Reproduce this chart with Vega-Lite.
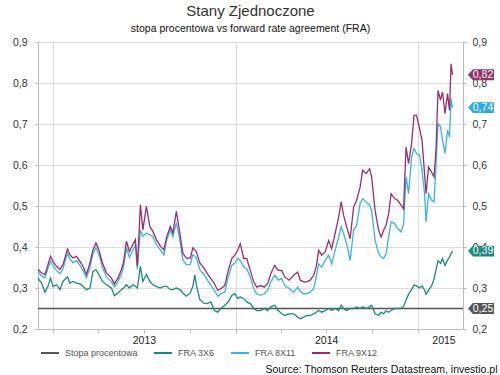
{
  "$schema": "https://vega.github.io/schema/vega-lite/v6.json",
  "width": 425,
  "height": 287,
  "autosize": "none",
  "padding": {"left": 38, "top": 42, "right": 37, "bottom": 46},
  "config": {
    "font": "Liberation Sans",
    "view": {"stroke": null},
    "locale": {"number": {"decimal": ",", "thousands": " ", "grouping": [3], "currency": ["", " zł"]}}
  },
  "title": {
    "text": "Stany Zjednoczone",
    "subtitle": "stopa procentowa vs forward rate agreement (FRA)",
    "fontSize": 15,
    "fontWeight": "normal",
    "color": "#333333",
    "subtitleFontSize": 10.5,
    "subtitleColor": "#111111",
    "subtitlePadding": 5,
    "offset": 3,
    "anchor": "middle"
  },
  "layer": [
    {
      "data": {
        "values": [
          {"d": "2012-12-01", "s": 0.25, "t": 0.324, "b": 0.340, "p": 0.345},
          {"d": "2012-12-08", "s": 0.25, "t": 0.312, "b": 0.330, "p": 0.337},
          {"d": "2012-12-15", "s": 0.25, "t": 0.290, "b": 0.325, "p": 0.333},
          {"d": "2012-12-21", "s": 0.25, "t": 0.304, "b": 0.348, "p": 0.357},
          {"d": "2012-12-26", "s": 0.25, "t": 0.324, "b": 0.365, "p": 0.377},
          {"d": "2012-12-31", "s": 0.25, "t": 0.304, "b": 0.355, "p": 0.365},
          {"d": "2013-01-07", "s": 0.25, "t": 0.308, "b": 0.343, "p": 0.353},
          {"d": "2013-01-14", "s": 0.25, "t": 0.296, "b": 0.335, "p": 0.345},
          {"d": "2013-01-20", "s": 0.25, "t": 0.316, "b": 0.347, "p": 0.357},
          {"d": "2013-01-29", "s": 0.25, "t": 0.327, "b": 0.385, "p": 0.395},
          {"d": "2013-02-03", "s": 0.25, "t": 0.312, "b": 0.370, "p": 0.381},
          {"d": "2013-02-09", "s": 0.25, "t": 0.316, "b": 0.362, "p": 0.373},
          {"d": "2013-02-16", "s": 0.25, "t": 0.312, "b": 0.367, "p": 0.377},
          {"d": "2013-02-23", "s": 0.25, "t": 0.310, "b": 0.355, "p": 0.365},
          {"d": "2013-03-01", "s": 0.25, "t": 0.304, "b": 0.343, "p": 0.353},
          {"d": "2013-03-08", "s": 0.25, "t": 0.296, "b": 0.325, "p": 0.333},
          {"d": "2013-03-15", "s": 0.25, "t": 0.300, "b": 0.350, "p": 0.361},
          {"d": "2013-03-21", "s": 0.25, "t": 0.340, "b": 0.383, "p": 0.393},
          {"d": "2013-03-27", "s": 0.25, "t": 0.345, "b": 0.398, "p": 0.410},
          {"d": "2013-04-02", "s": 0.25, "t": 0.333, "b": 0.382, "p": 0.393},
          {"d": "2013-04-09", "s": 0.25, "t": 0.316, "b": 0.350, "p": 0.361},
          {"d": "2013-04-17", "s": 0.25, "t": 0.308, "b": 0.327, "p": 0.337},
          {"d": "2013-04-27", "s": 0.25, "t": 0.300, "b": 0.315, "p": 0.324},
          {"d": "2013-05-03", "s": 0.25, "t": 0.281, "b": 0.303, "p": 0.310},
          {"d": "2013-05-10", "s": 0.25, "t": 0.288, "b": 0.315, "p": 0.324},
          {"d": "2013-05-17", "s": 0.25, "t": 0.296, "b": 0.335, "p": 0.345},
          {"d": "2013-05-21", "s": 0.25, "t": 0.300, "b": 0.350, "p": 0.361},
          {"d": "2013-05-27", "s": 0.25, "t": 0.308, "b": 0.398, "p": 0.414},
          {"d": "2013-06-02", "s": 0.25, "t": 0.300, "b": 0.375, "p": 0.389},
          {"d": "2013-06-09", "s": 0.25, "t": 0.308, "b": 0.392, "p": 0.406},
          {"d": "2013-06-14", "s": 0.25, "t": 0.304, "b": 0.405, "p": 0.418},
          {"d": "2013-06-18", "s": 0.25, "t": 0.300, "b": 0.345, "p": 0.353},
          {"d": "2013-06-24", "s": 0.25, "t": 0.353, "b": 0.442, "p": 0.503},
          {"d": "2013-06-29", "s": 0.25, "t": 0.316, "b": 0.426, "p": 0.442},
          {"d": "2013-07-06", "s": 0.25, "t": 0.333, "b": 0.434, "p": 0.499},
          {"d": "2013-07-13", "s": 0.25, "t": 0.316, "b": 0.430, "p": 0.450},
          {"d": "2013-07-19", "s": 0.25, "t": 0.308, "b": 0.425, "p": 0.438},
          {"d": "2013-07-26", "s": 0.25, "t": 0.304, "b": 0.406, "p": 0.418},
          {"d": "2013-08-03", "s": 0.25, "t": 0.300, "b": 0.393, "p": 0.402},
          {"d": "2013-08-10", "s": 0.25, "t": 0.304, "b": 0.381, "p": 0.393},
          {"d": "2013-08-16", "s": 0.25, "t": 0.304, "b": 0.418, "p": 0.426},
          {"d": "2013-08-23", "s": 0.25, "t": 0.296, "b": 0.442, "p": 0.450},
          {"d": "2013-08-28", "s": 0.25, "t": 0.296, "b": 0.425, "p": 0.434},
          {"d": "2013-09-04", "s": 0.25, "t": 0.300, "b": 0.459, "p": 0.487},
          {"d": "2013-09-11", "s": 0.25, "t": 0.296, "b": 0.418, "p": 0.434},
          {"d": "2013-09-17", "s": 0.25, "t": 0.288, "b": 0.369, "p": 0.385},
          {"d": "2013-09-24", "s": 0.25, "t": 0.280, "b": 0.357, "p": 0.373},
          {"d": "2013-10-02", "s": 0.25, "t": 0.288, "b": 0.357, "p": 0.373},
          {"d": "2013-10-07", "s": 0.25, "t": 0.304, "b": 0.381, "p": 0.398},
          {"d": "2013-10-11", "s": 0.25, "t": 0.332, "b": 0.378, "p": 0.393},
          {"d": "2013-10-14", "s": 0.25, "t": 0.308, "b": 0.373, "p": 0.389},
          {"d": "2013-10-21", "s": 0.25, "t": 0.272, "b": 0.345, "p": 0.361},
          {"d": "2013-10-29", "s": 0.25, "t": 0.263, "b": 0.333, "p": 0.349},
          {"d": "2013-11-05", "s": 0.25, "t": 0.262, "b": 0.320, "p": 0.335},
          {"d": "2013-11-12", "s": 0.25, "t": 0.266, "b": 0.307, "p": 0.323},
          {"d": "2013-11-19", "s": 0.25, "t": 0.245, "b": 0.294, "p": 0.311},
          {"d": "2013-11-26", "s": 0.25, "t": 0.241, "b": 0.280, "p": 0.294},
          {"d": "2013-12-02", "s": 0.25, "t": 0.250, "b": 0.286, "p": 0.298},
          {"d": "2013-12-10", "s": 0.25, "t": 0.258, "b": 0.290, "p": 0.306},
          {"d": "2013-12-17", "s": 0.25, "t": 0.266, "b": 0.327, "p": 0.343},
          {"d": "2013-12-24", "s": 0.25, "t": 0.282, "b": 0.355, "p": 0.372},
          {"d": "2013-12-30", "s": 0.25, "t": 0.286, "b": 0.360, "p": 0.380},
          {"d": "2014-01-05", "s": 0.25, "t": 0.274, "b": 0.372, "p": 0.392},
          {"d": "2014-01-10", "s": 0.25, "t": 0.278, "b": 0.367, "p": 0.408},
          {"d": "2014-01-17", "s": 0.25, "t": 0.274, "b": 0.351, "p": 0.372},
          {"d": "2014-01-23", "s": 0.25, "t": 0.266, "b": 0.347, "p": 0.372},
          {"d": "2014-01-30", "s": 0.25, "t": 0.262, "b": 0.327, "p": 0.343},
          {"d": "2014-02-06", "s": 0.25, "t": 0.250, "b": 0.298, "p": 0.315},
          {"d": "2014-02-12", "s": 0.25, "t": 0.245, "b": 0.286, "p": 0.302},
          {"d": "2014-02-20", "s": 0.25, "t": 0.245, "b": 0.282, "p": 0.306},
          {"d": "2014-02-27", "s": 0.25, "t": 0.250, "b": 0.286, "p": 0.302},
          {"d": "2014-03-06", "s": 0.25, "t": 0.245, "b": 0.294, "p": 0.311},
          {"d": "2014-03-12", "s": 0.25, "t": 0.254, "b": 0.315, "p": 0.335},
          {"d": "2014-03-20", "s": 0.25, "t": 0.258, "b": 0.331, "p": 0.355},
          {"d": "2014-03-27", "s": 0.25, "t": 0.245, "b": 0.319, "p": 0.343},
          {"d": "2014-04-03", "s": 0.25, "t": 0.237, "b": 0.323, "p": 0.343},
          {"d": "2014-04-09", "s": 0.25, "t": 0.233, "b": 0.306, "p": 0.327},
          {"d": "2014-04-18", "s": 0.25, "t": 0.237, "b": 0.298, "p": 0.319},
          {"d": "2014-04-27", "s": 0.25, "t": 0.237, "b": 0.290, "p": 0.331},
          {"d": "2014-05-05", "s": 0.25, "t": 0.229, "b": 0.302, "p": 0.339},
          {"d": "2014-05-10", "s": 0.25, "t": 0.225, "b": 0.292, "p": 0.319},
          {"d": "2014-05-17", "s": 0.25, "t": 0.229, "b": 0.286, "p": 0.315},
          {"d": "2014-05-23", "s": 0.25, "t": 0.233, "b": 0.286, "p": 0.315},
          {"d": "2014-05-30", "s": 0.25, "t": 0.233, "b": 0.290, "p": 0.319},
          {"d": "2014-06-06", "s": 0.25, "t": 0.237, "b": 0.298, "p": 0.331},
          {"d": "2014-06-11", "s": 0.25, "t": 0.241, "b": 0.327, "p": 0.351},
          {"d": "2014-06-16", "s": 0.25, "t": 0.245, "b": 0.359, "p": 0.392},
          {"d": "2014-06-22", "s": 0.25, "t": 0.241, "b": 0.351, "p": 0.380},
          {"d": "2014-06-29", "s": 0.25, "t": 0.245, "b": 0.367, "p": 0.388},
          {"d": "2014-07-06", "s": 0.25, "t": 0.250, "b": 0.380, "p": 0.416},
          {"d": "2014-07-12", "s": 0.25, "t": 0.245, "b": 0.359, "p": 0.396},
          {"d": "2014-07-19", "s": 0.25, "t": 0.250, "b": 0.392, "p": 0.433},
          {"d": "2014-07-26", "s": 0.25, "t": 0.245, "b": 0.424, "p": 0.473},
          {"d": "2014-07-31", "s": 0.25, "t": 0.258, "b": 0.449, "p": 0.510},
          {"d": "2014-08-05", "s": 0.25, "t": 0.250, "b": 0.433, "p": 0.477},
          {"d": "2014-08-11", "s": 0.25, "t": 0.245, "b": 0.408, "p": 0.449},
          {"d": "2014-08-18", "s": 0.25, "t": 0.250, "b": 0.367, "p": 0.420},
          {"d": "2014-08-25", "s": 0.25, "t": 0.250, "b": 0.441, "p": 0.498},
          {"d": "2014-08-31", "s": 0.25, "t": 0.254, "b": 0.453, "p": 0.514},
          {"d": "2014-09-07", "s": 0.25, "t": 0.250, "b": 0.506, "p": 0.546},
          {"d": "2014-09-12", "s": 0.25, "t": 0.254, "b": 0.518, "p": 0.587},
          {"d": "2014-09-19", "s": 0.25, "t": 0.250, "b": 0.510, "p": 0.579},
          {"d": "2014-09-26", "s": 0.25, "t": 0.254, "b": 0.502, "p": 0.591},
          {"d": "2014-09-30", "s": 0.25, "t": 0.258, "b": 0.489, "p": 0.571},
          {"d": "2014-10-07", "s": 0.25, "t": 0.237, "b": 0.416, "p": 0.489},
          {"d": "2014-10-14", "s": 0.25, "t": 0.233, "b": 0.384, "p": 0.441},
          {"d": "2014-10-19", "s": 0.25, "t": 0.241, "b": 0.376, "p": 0.424},
          {"d": "2014-10-24", "s": 0.25, "t": 0.237, "b": 0.372, "p": 0.441},
          {"d": "2014-10-29", "s": 0.25, "t": 0.245, "b": 0.384, "p": 0.453},
          {"d": "2014-11-03", "s": 0.25, "t": 0.241, "b": 0.424, "p": 0.481},
          {"d": "2014-11-08", "s": 0.25, "t": 0.245, "b": 0.461, "p": 0.530},
          {"d": "2014-11-15", "s": 0.25, "t": 0.250, "b": 0.457, "p": 0.518},
          {"d": "2014-11-21", "s": 0.25, "t": 0.250, "b": 0.445, "p": 0.514},
          {"d": "2014-11-28", "s": 0.25, "t": 0.250, "b": 0.437, "p": 0.502},
          {"d": "2014-12-03", "s": 0.25, "t": 0.255, "b": 0.455, "p": 0.493},
          {"d": "2014-12-08", "s": 0.25, "t": 0.270, "b": 0.571, "p": 0.644},
          {"d": "2014-12-13", "s": 0.25, "t": 0.285, "b": 0.530, "p": 0.603},
          {"d": "2014-12-19", "s": 0.25, "t": 0.296, "b": 0.619, "p": 0.652},
          {"d": "2014-12-24", "s": 0.25, "t": 0.307, "b": 0.640, "p": 0.721},
          {"d": "2014-12-29", "s": 0.25, "t": 0.305, "b": 0.628, "p": 0.721},
          {"d": "2015-01-04", "s": 0.25, "t": 0.300, "b": 0.624, "p": 0.689},
          {"d": "2015-01-09", "s": 0.25, "t": 0.305, "b": 0.587, "p": 0.660},
          {"d": "2015-01-14", "s": 0.25, "t": 0.295, "b": 0.530, "p": 0.579},
          {"d": "2015-01-17", "s": 0.25, "t": 0.285, "b": 0.461, "p": 0.530},
          {"d": "2015-01-22", "s": 0.25, "t": 0.295, "b": 0.530, "p": 0.595},
          {"d": "2015-01-28", "s": 0.25, "t": 0.305, "b": 0.514, "p": 0.583},
          {"d": "2015-02-02", "s": 0.25, "t": 0.322, "b": 0.510, "p": 0.571},
          {"d": "2015-02-06", "s": 0.25, "t": 0.345, "b": 0.600, "p": 0.640},
          {"d": "2015-02-10", "s": 0.25, "t": 0.367, "b": 0.701, "p": 0.782},
          {"d": "2015-02-15", "s": 0.25, "t": 0.360, "b": 0.693, "p": 0.758},
          {"d": "2015-02-19", "s": 0.25, "t": 0.372, "b": 0.660, "p": 0.778},
          {"d": "2015-02-24", "s": 0.25, "t": 0.355, "b": 0.628, "p": 0.725},
          {"d": "2015-03-01", "s": 0.25, "t": 0.368, "b": 0.685, "p": 0.774},
          {"d": "2015-03-05", "s": 0.25, "t": 0.375, "b": 0.668, "p": 0.733},
          {"d": "2015-03-08", "s": 0.25, "t": 0.384, "b": 0.762, "p": 0.847},
          {"d": "2015-03-11", "s": 0.25, "t": 0.390, "b": 0.740, "p": 0.820},
          {"d": "2015-04-01", "s": 0.25}
        ]
      },
      "transform": [{"fold": ["s", "t", "b", "p"], "as": ["k", "v"]}],
      "mark": {"type": "line", "strokeWidth": 1.3},
      "encoding": {
        "x": {
          "field": "d",
          "type": "temporal",
          "scale": {
            "type": "utc",
            "domain": [
              {"year": 2012, "month": 12, "date": 1, "utc": true},
              {"year": 2015, "month": 4, "date": 1, "utc": true}
            ]
          },
          "axis": {
            "values": [
              {"year": 2013, "month": 1, "date": 1, "utc": true},
              {"year": 2013, "month": 4, "date": 1, "utc": true},
              {"year": 2013, "month": 7, "date": 1, "utc": true},
              {"year": 2013, "month": 10, "date": 1, "utc": true},
              {"year": 2014, "month": 1, "date": 1, "utc": true},
              {"year": 2014, "month": 4, "date": 1, "utc": true},
              {"year": 2014, "month": 7, "date": 1, "utc": true},
              {"year": 2014, "month": 10, "date": 1, "utc": true},
              {"year": 2015, "month": 1, "date": 1, "utc": true},
              {"year": 2015, "month": 2, "date": 21, "utc": true}
            ],
            "labelExpr": "(utcmonth(datum.value) == 6 || utcmonth(datum.value) == 1) ? utcFormat(datum.value, '%Y') : ''",
            "grid": true,
            "gridColor": "#dcdcdc",
            "gridOpacity": {"condition": {"test": "utcmonth(datum.value) == 0", "value": 1}, "value": 0},
            "tickOpacity": {"condition": {"test": "utcmonth(datum.value) == 1", "value": 0}, "value": 1},
            "tickSize": 4,
            "tickColor": "#bbbbbb",
            "domainColor": "#bbbbbb",
            "labelFontSize": 10.5,
            "labelColor": "#222222",
            "labelPadding": 2,
            "labelOverlap": false,
            "labelFlush": false,
            "labelBound": false,
            "title": "Source: Thomson Reuters Datastream, investio.pl",
            "titleFontSize": 10.5,
            "titleFontWeight": "normal",
            "titleColor": "#111111",
            "titleX": 459,
            "titleY": 40,
            "titleAlign": "right",
            "titleBaseline": "middle"
          }
        },
        "y": {
          "field": "v",
          "type": "quantitative",
          "scale": {"domain": [0.2, 0.9], "nice": false, "zero": false},
          "axis": {
            "values": [0.2, 0.3, 0.4, 0.5, 0.6, 0.7, 0.8, 0.9],
            "format": ".1f",
            "grid": true,
            "gridColor": "#dcdcdc",
            "tickSize": 3,
            "tickColor": "#bbbbbb",
            "domainColor": "#bbbbbb",
            "labelFontSize": 10.5,
            "labelColor": "#333333",
            "labelPadding": 8,
            "title": null
          }
        },
        "color": {
          "field": "k",
          "type": "nominal",
          "scale": {"domain": ["s", "t", "b", "p"], "range": ["#555555", "#1b8a7d", "#3bb2e6", "#96306a"]},
          "legend": {
            "title": null,
            "orient": "none",
            "legendX": 2,
            "legendY": 301,
            "direction": "horizontal",
            "symbolType": "stroke",
            "symbolSize": 324,
            "symbolStrokeWidth": 2,
            "labelFontSize": 9,
            "labelColor": "#555555",
            "columnPadding": 12,
            "padding": 0,
            "labelOffset": 5,
            "labelExpr": "({'s': 'Stopa procentowa', 't': 'FRA 3X6', 'b': 'FRA 8X11', 'p': 'FRA 9X12'})[datum.label]"
          }
        }
      }
    },
    {
      "data": {
        "values": [
          {"k": "s", "v": 0.25},
          {"k": "t", "v": 0.39},
          {"k": "b", "v": 0.74},
          {"k": "p", "v": 0.82}
        ]
      },
      "layer": [
        {
          "mark": {
            "type": "point",
            "shape": "M-1,0L-0.62,-0.42L1,-0.42L1,0.42L-0.62,0.42Z",
            "size": 676,
            "filled": true,
            "opacity": 1,
            "strokeWidth": 0,
            "xOffset": 18
          },
          "encoding": {
            "x": {"datum": {"year": 2015, "month": 4, "date": 1, "utc": true}, "type": "temporal"},
            "y": {
              "field": "v",
              "type": "quantitative",
              "scale": {"domain": [0.2, 0.9], "nice": false, "zero": false},
              "axis": {
                "orient": "right",
                "values": [0.2, 0.3, 0.4, 0.5, 0.6, 0.7, 0.8, 0.9],
                "format": ".1f",
                "grid": false,
                "tickSize": 3,
                "tickColor": "#bbbbbb",
                "domainColor": "#bbbbbb",
                "labelFontSize": 10.5,
                "labelColor": "#333333",
                "labelPadding": 6,
                "title": null
              }
            },
            "fill": {
              "field": "k",
              "type": "nominal",
              "scale": {"domain": ["s", "t", "b", "p"], "range": ["#555555", "#1b8a7d", "#2eaae2", "#96306a"]},
              "legend": null
            }
          }
        },
        {
          "mark": {"type": "text", "xOffset": 20, "color": "white", "fontSize": 10.5, "align": "center", "baseline": "middle"},
          "encoding": {
            "x": {"datum": {"year": 2015, "month": 4, "date": 1, "utc": true}, "type": "temporal"},
            "y": {"field": "v", "type": "quantitative"},
            "text": {"field": "v", "type": "quantitative", "format": ".2f"}
          }
        }
      ]
    }
  ],
  "resolve": {"scale": {"y": "independent"}}
}
